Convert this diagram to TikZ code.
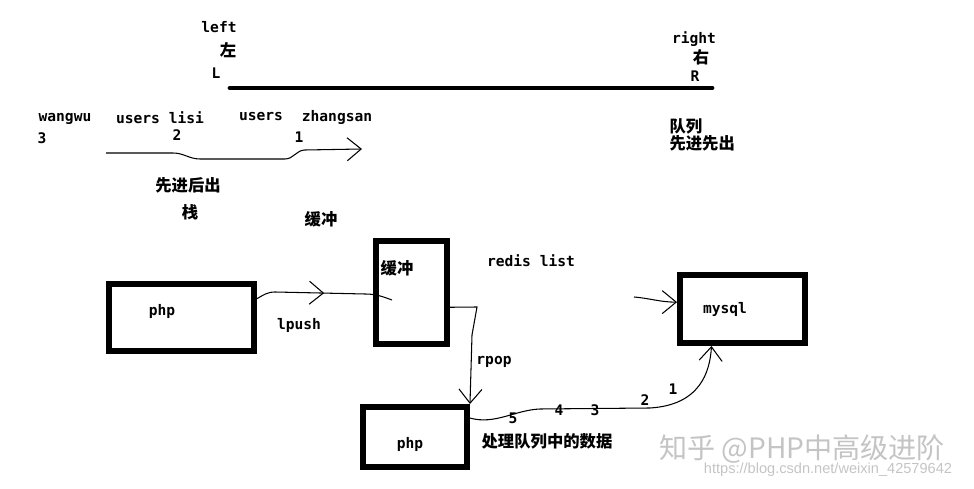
\documentclass[tikz,border=0pt]{standalone}
\usepackage{fontspec}
\newfontfamily\latinfont{DejaVu Sans Mono}
\newfontfamily\cjkfont{Noto Sans CJK SC}
\newfontfamily\urlfont{Liberation Sans}
\usetikzlibrary{arrows.meta, decorations.markings, calc}
\definecolor{wmGrey}{HTML}{C4C4C4}
\tikzset{
  % thin hand-drawn strokes, open barbs like a paint sketch
  every picture/.append style = {line width=0.6pt, >={Straight Barb[length=2.8mm, width=4.6mm]}},
  box/.style       = {draw, line width=3.4pt, inner sep=0pt},
  queueline/.style = {line width=2.8pt, line cap=round},
  lat/.style       = {font=\latinfont\bfseries\fontsize{8.3}{10}\selectfont, inner sep=0pt},
  zh/.style        = {font=\cjkfont\bfseries\fontsize{9.3}{9.8}\selectfont, inner sep=0pt},
  wm/.style        = {font=\cjkfont\fontsize{16}{18}\selectfont, wmGrey, inner sep=0pt},
  wmurl/.style     = {font=\urlfont\fontsize{8.3}{10}\selectfont, wmGrey, inner sep=0pt},
  midarrow/.style  = {decoration={markings, mark=at position #1 with {\arrow{>}}},
                      postaction={decorate}},
}

\begin{document}
\begin{tikzpicture}[x=0.02cm, y=-0.02cm]
\useasboundingbox (0,0) rectangle (974,489);

% ---- queue bar: left / right ---------------------------------------------
\node[lat] (leftT)  at (219,27) {left};
\node[zh]  (leftZ)  at (228,50) {左};
\node[lat] (leftL)  at (216,73) {L};
\node[lat] (rightT) at (694,39) {right};
\node[zh]  (rightZ) at (701,57) {右};
\node[lat] (rightR) at (695,76) {R};
\coordinate (Lend) at (230,88);
\coordinate (Rend) at (712,88);
\draw[queueline] (Lend) -- (Rend);
\node[zh, align=left, anchor=west] (queue) at (669,135) {队列\\先进先出};

% ---- stack: users pushed in order ----------------------------------------
\node[lat] (wangwu)   at (65,119)  {wangwu};
\node[lat] (three)    at (42,138)  {3};
\node[lat] (lisi)     at (160,118) {users lisi};
\node[lat] (two)      at (177,135) {2};
\node[lat] (users)    at (261,117) {users};
\node[lat] (zhangsan) at (337,117) {zhangsan};
\node[lat] (one)      at (299,137) {1};
\coordinate (stackTail) at (106,153);
\coordinate (stackHead) at (362,149);
\draw[->] (stackTail) -- (173,153) to[out=0,in=180] (200,159) -- (285,159)
  to[out=0,in=180] (305,150) -- (stackHead);
\node[zh] (lifo)   at (188,185) {先进后出};
\node[zh] (stack)  at (190,212) {栈};
\node[zh] (bufTop) at (321,219) {缓冲};

% ---- php -> redis list -> php -> mysql -----------------------------------
\node[box, minimum width=2.9cm, minimum height=1.34cm] (phpA) at (181.5,317.5) {};
\node[lat] (phpAT) at (162,311) {php};
\node[box, minimum width=1.42cm, minimum height=2.06cm] (buffer) at (411.5,292.5) {};
\node[zh] (bufT) at (397,268) {缓冲};
\node[lat] (redis) at (531,261) {redis list};
\node[box, minimum width=2.08cm, minimum height=1.2cm] (phpB) at (415,437) {};
\node[lat] (phpBT) at (410,444) {php};
\node[box, minimum width=2.5cm, minimum height=1.36cm] (mysql) at (742.5,309) {};
\node[lat] (mysqlT) at (725,309) {mysql};

\coordinate (lpushEnd) at (392,300);
\draw[midarrow=0.5] (phpA.14) to[out=30,in=180] (275,292) -- (365,294)
  to[out=0,in=160] (lpushEnd);
\node[lat] (lpush) at (299,325) {lpush};

\draw[->] (buffer.-21) -- (477,307) -- (472,335) -- (phpB.north east);
\node[lat] (rpop) at (494,362) {rpop};

\draw[->] (phpB.19) .. controls (495,425) and (515,410) .. (540,409) -- (650,408)
  .. controls (700,405) and (710,372) .. (mysql.230);
\foreach \n/\px/\py in {5/513/418, 4/559/410, 3/595/410, 2/645/400, 1/673/389}
  \node[lat] (num\n) at (\px,\py) {\n};
\node[zh] (work) at (547,441) {处理队列中的数据};

\coordinate (inTail) at (634,297);
\draw[->] (inTail) to[out=-5,in=180] (mysql.174);

% ---- watermark -----------------------------------------------------------
\node[wm]    (wmA) at (802,449) {知乎 @PHP中高级进阶};
\node[wmurl] (wmB) at (828,470) {https://blog.csdn.net/weixin\_42579642};
\end{tikzpicture}
\end{document}
